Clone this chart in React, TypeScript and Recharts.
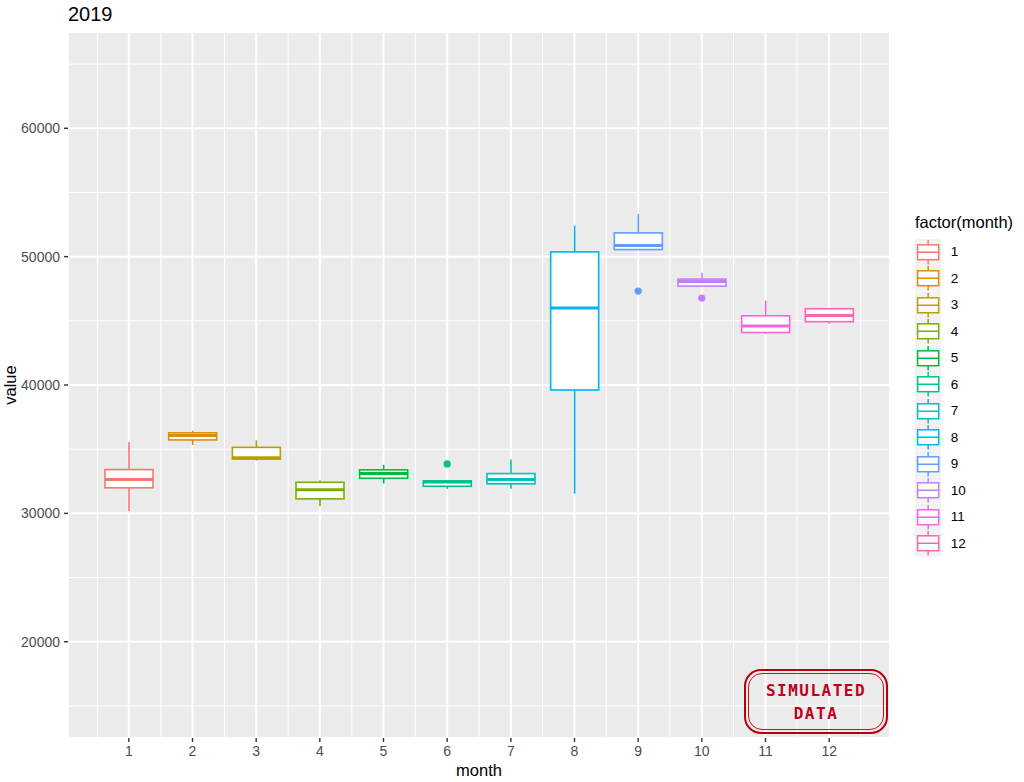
import React from "react";
import { ComposedChart, Bar, Scatter, XAxis, YAxis, CartesianGrid } from "recharts";

const months = ["1", "2", "3", "4", "5", "6", "7", "8", "9", "10", "11", "12"];
const monthColors = [
  "#F8766D", "#DE8C00", "#B79F00", "#7CAE00", "#00BA38", "#00C08B",
  "#00BFC4", "#00B4F0", "#619CFF", "#C77CFF", "#F564E3", "#FF64B0",
];
const lowerWhisker = [30160, 35330, 34110, 30550, 32320, 31910, 31910, 31540, 50520, 47680, 43970, 44770];
const lowerHinge = [31990, 35720, 34230, 31130, 32730, 32110, 32300, 39610, 50550, 47700, 44090, 44930];
const medianValue = [32630, 36060, 34330, 31830, 33100, 32450, 32630, 45990, 50860, 48060, 44590, 45420];
const upperHinge = [33410, 36270, 35140, 32420, 33390, 32530, 33100, 50370, 51850, 48250, 45390, 45940];
const upperWhisker = [35560, 36440, 35690, 32580, 33780, 32550, 34190, 52400, 53330, 48740, 46580, 45960];
const outlierValue: (number | null)[] = [null, null, null, null, null, 33850, null, null, 47320, 46770, null, null];

const yTicks = [20000, 30000, 40000, 50000, 60000];
const yMinorTicks = [15000, 25000, 35000, 45000, 55000, 65000];
const xMinorTicks = [0.5, 1.5, 2.5, 3.5, 4.5, 5.5, 6.5, 7.5, 8.5, 9.5, 10.5, 11.5, 12.5];

const data = months.map((m, i) => ({
  month: m,
  pos: i + 1,
  box: [lowerHinge[i], upperHinge[i]],
  whisker: [lowerWhisker[i], upperWhisker[i]],
  median: medianValue[i],
  outlier: outlierValue[i],
  color: monthColors[i],
}));

const FONT = "'Liberation Sans', Arial, Helvetica, sans-serif";

const BoxShape = (props: any) => {
  const { x, y, width, height, payload } = props;
  if (x == null || y == null) return <g />;
  const top = Math.min(y, y + height);
  const h = Math.abs(height);
  const [lo, hi] = payload.box;
  const my = top + (h * (hi - payload.median)) / (hi - lo);
  return (
    <g>
      <rect x={x} y={top} width={width} height={h} fill="#fff" stroke={payload.color} strokeWidth={1.6} />
      <line x1={x} x2={x + width} y1={my} y2={my} stroke={payload.color} strokeWidth={3} />
    </g>
  );
};

const WhiskerShape = (props: any) => {
  const { x, y, width, height, payload } = props;
  if (x == null || y == null) return <g />;
  const cx = x + width / 2;
  return <line x1={cx} x2={cx} y1={y} y2={y + height} stroke={payload.color} strokeWidth={1.6} />;
};

const OutlierShape = (props: any) => {
  const { cx, cy, payload } = props;
  if (payload == null || payload.outlier == null || !isFinite(cy)) return <g />;
  return <circle cx={cx} cy={cy} r={3.6} fill={payload.color} />;
};

export default function App() {
  return (
    <div style={{ position: "absolute", left: 0, top: 0, width: 1024, height: 782, background: "#fff", fontFamily: FONT }}>
      <div style={{ position: "absolute", left: 68, top: 4, fontSize: 20, lineHeight: "20px", color: "#000" }}>2019</div>

      <ComposedChart
        width={1024}
        height={782}
        data={data}
        margin={{ top: 32, right: 134, bottom: 0, left: 0 }}
        style={{ fontFamily: FONT }}
      >
        <XAxis xAxisId="minorX" dataKey="pos" type="number" domain={[0.04, 12.96]} ticks={xMinorTicks} interval={0} allowDataOverflow hide />
        <YAxis yAxisId="minorY" type="number" domain={[12500, 67500]} ticks={yMinorTicks} interval={0} allowDataOverflow hide />
        <CartesianGrid xAxisId="minorX" yAxisId="minorY" stroke="#ffffff" strokeWidth={1} fill="#EBEBEB" fillOpacity={1} />
        <XAxis
          xAxisId="main"
          dataKey="month"
          type="category"
          padding={{ left: 29, right: 29 }}
          interval={0}
          height={44}
          axisLine={false}
          tickSize={4}
          tickMargin={4.5}
          fontSize={14}
          tickLine={{ stroke: "#333333", strokeWidth: 1.4 }}
          tick={{ fill: "#4D4D4D", fontSize: 14 }}
          label={{
            content: (p: any) => {
              const vb = p.viewBox || {};
              return (
                <text x={vb.x + vb.width / 2} y={vb.y + vb.height - 6} textAnchor="middle" fontSize={16.5} fill="#000">
                  month
                </text>
              );
            },
          }}
        />
        <XAxis xAxisId="whisk" dataKey="month" type="category" padding={{ left: 29, right: 29 }} interval={0} hide />
        <YAxis
          type="number"
          domain={[12500, 67500]}
          ticks={yTicks}
          interval={0}
          allowDataOverflow
          width={68}
          axisLine={false}
          tickSize={4}
          tickMargin={4}
          fontSize={14}
          tickLine={{ stroke: "#333333", strokeWidth: 1.4 }}
          tick={{ fill: "#4D4D4D", fontSize: 14 }}
          label={{
            content: (p: any) => {
              const vb = p.viewBox || {};
              const cy = vb.y + vb.height / 2;
              return (
                <text x={16} y={cy} transform={`rotate(-90, 16, ${cy})`} textAnchor="middle" fontSize={16.5} fill="#000">
                  value
                </text>
              );
            },
          }}
        />
        <CartesianGrid xAxisId="main" stroke="#ffffff" strokeWidth={2} />
        <Bar xAxisId="whisk" dataKey="whisker" barSize={48} shape={WhiskerShape} isAnimationActive={false} />
        <Bar xAxisId="main" dataKey="box" barSize={48} shape={BoxShape} isAnimationActive={false} />
        <Scatter xAxisId="main" dataKey="outlier" shape={OutlierShape} isAnimationActive={false} />
      </ComposedChart>

      {/* legend */}
      <div style={{ position: "absolute", left: 915, top: 214, fontSize: 16.5, lineHeight: "16.5px", color: "#000", whiteSpace: "nowrap" }}>
        factor(month)
      </div>
      <div style={{ position: "absolute", left: 914.7, top: 238.5 }}>
        {months.map((m, i) => (
          <div key={m} style={{ display: "flex", alignItems: "center", height: 26.5 }}>
            <svg width={26.3} height={26.5} style={{ display: "block" }}>
              <rect x={0} y={0} width={26.3} height={26.5} fill="#F2F2F2" />
              <line x1={13.15} x2={13.15} y1={1} y2={25.5} stroke={monthColors[i]} strokeWidth={1.5} />
              <rect x={2.6} y={5.8} width={21.1} height={14.9} fill="#fff" stroke={monthColors[i]} strokeWidth={1.5} />
              <line x1={2.6} x2={23.7} y1={13.25} y2={13.25} stroke={monthColors[i]} strokeWidth={1.5} />
            </svg>
            <span style={{ marginLeft: 9.7, fontSize: 13.5, color: "#000" }}>{m}</span>
          </div>
        ))}
      </div>

      {/* stamp */}
      <div
        style={{
          position: "absolute",
          left: 744,
          top: 669,
          width: 144,
          height: 65,
          boxSizing: "border-box",
          border: "2px solid #B8000F",
          borderRadius: 17,
        }}
      >
        <div
          style={{
            position: "absolute",
            left: 2,
            top: 2,
            right: 2,
            bottom: 2,
            border: "1px solid #C8101E",
            borderRadius: 14,
            display: "flex",
            flexDirection: "column",
            alignItems: "center",
            justifyContent: "center",
            color: "#C0001A",
            fontFamily: "'DejaVu Sans Mono', monospace",
            fontWeight: 700,
            fontSize: 16,
            lineHeight: "23px",
            letterSpacing: 1.5,
          }}
        >
          <div>SIMULATED</div>
          <div>DATA</div>
        </div>
      </div>
    </div>
  );
}
